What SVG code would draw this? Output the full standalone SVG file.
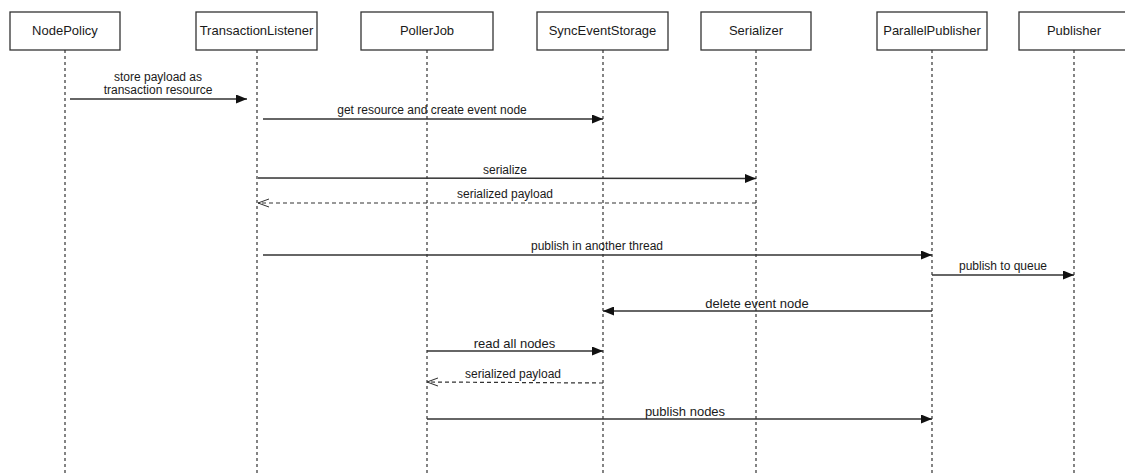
<svg xmlns="http://www.w3.org/2000/svg" width="1125" height="475" viewBox="0 0 1125 475">
  <style>
    .box { fill: #ffffff; stroke: #333333; stroke-width: 1.3; }
    .life { stroke: #333333; stroke-width: 1.2; stroke-dasharray: 3 3; fill: none; }
    .msg { stroke: #333333; stroke-width: 1.5; fill: none; }
    .ret { stroke: #333333; stroke-width: 1.2; stroke-dasharray: 4 3; fill: none; }
    text { font-family: "Liberation Sans", Arial, sans-serif; font-size: 12px; fill: #1a1a1a; text-anchor: middle; }
    .head, .big { font-size: 13px; }
  </style>
  <defs>
    <marker id="solid" markerWidth="11" markerHeight="9" refX="11" refY="4.5" orient="auto" markerUnits="userSpaceOnUse">
      <path d="M0,0 L11,4.5 L0,9 Z" fill="#111111"/>
    </marker>
    <marker id="open" markerWidth="11" markerHeight="10" refX="11" refY="5" orient="auto" markerUnits="userSpaceOnUse">
      <path d="M0,1 L11,5 L0,9" fill="none" stroke="#333333" stroke-width="1"/>
    </marker>
  </defs>
  <rect width="1125" height="475" fill="#ffffff"/>

  <g id="NodePolicy">
    <rect class="box" x="10" y="12" width="110" height="38"/>
    <line class="life" x1="65" y1="50" x2="65" y2="475"/>
    <text class="head" x="65" y="35">NodePolicy</text>
  </g>
  <g id="TransactionListener">
    <rect class="box" x="196" y="12" width="121" height="38"/>
    <line class="life" x1="257" y1="50" x2="257" y2="475"/>
    <text class="head" x="256.5" y="35">TransactionListener</text>
  </g>
  <g id="PollerJob">
    <rect class="box" x="361" y="12" width="132" height="38"/>
    <line class="life" x1="427" y1="50" x2="427" y2="475"/>
    <text class="head" x="427" y="35">PollerJob</text>
  </g>
  <g id="SyncEventStorage">
    <rect class="box" x="537" y="12" width="131" height="38"/>
    <line class="life" x1="603" y1="50" x2="603" y2="475"/>
    <text class="head" x="602.5" y="35">SyncEventStorage</text>
  </g>
  <g id="Serializer">
    <rect class="box" x="701" y="12" width="110" height="38"/>
    <line class="life" x1="756" y1="50" x2="756" y2="475"/>
    <text class="head" x="756" y="35">Serializer</text>
  </g>
  <g id="ParallelPublisher">
    <rect class="box" x="877" y="12" width="110" height="38"/>
    <line class="life" x1="932" y1="50" x2="932" y2="475"/>
    <text class="head" x="932" y="35">ParallelPublisher</text>
  </g>
  <g id="Publisher">
    <rect class="box" x="1019" y="12" width="110" height="38"/>
    <line class="life" x1="1074" y1="50" x2="1074" y2="475"/>
    <text class="head" x="1074" y="35">Publisher</text>
  </g>

  <g id="messages">
    <line class="msg" x1="70" y1="99" x2="247" y2="99" marker-end="url(#solid)"/>
    <text x="158" y="81">store payload as</text>
    <text x="158" y="94">transaction resource</text>

    <line class="msg" x1="263" y1="119" x2="603" y2="119" marker-end="url(#solid)"/>
    <text x="432" y="114">get resource and create event node</text>

    <line class="msg" x1="258" y1="178" x2="756" y2="178.5" marker-end="url(#solid)"/>
    <text x="505" y="174">serialize</text>

    <line class="ret" x1="756" y1="203" x2="258" y2="203" marker-end="url(#open)"/>
    <text x="505" y="198">serialized payload</text>

    <line class="msg" x1="263" y1="255" x2="932" y2="255" marker-end="url(#solid)"/>
    <text x="597" y="250">publish in another thread</text>

    <line class="msg" x1="932" y1="275" x2="1074" y2="275" marker-end="url(#solid)"/>
    <text x="1003" y="270">publish to queue</text>

    <line class="msg" x1="932" y1="311" x2="603" y2="311" marker-end="url(#solid)"/>
    <text class="big" x="757" y="308">delete event node</text>

    <line class="msg" x1="427" y1="351" x2="603" y2="351" marker-end="url(#solid)"/>
    <text class="big" x="514.5" y="348">read all nodes</text>

    <line class="ret" x1="603" y1="383" x2="427" y2="382" marker-end="url(#open)"/>
    <text x="513" y="378">serialized payload</text>

    <line class="msg" x1="427" y1="419" x2="932" y2="419" marker-end="url(#solid)"/>
    <text class="big" x="685" y="416">publish nodes</text>
  </g>
</svg>
